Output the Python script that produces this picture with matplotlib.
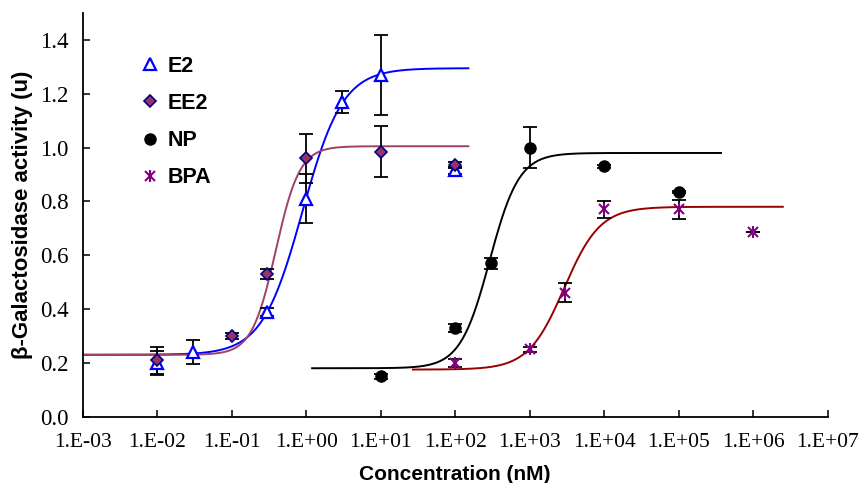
import numpy as np
import matplotlib
matplotlib.use("Agg")
import matplotlib.pyplot as plt
from matplotlib.ticker import FixedLocator, FuncFormatter
from matplotlib.legend_handler import HandlerTuple

# measured points (concentration in nM, mean activity, error)
e2_x = [0.01, 0.03, 0.3, 1, 3, 10, 100]
e2_y = [0.20, 0.24, 0.39, 0.81, 1.17, 1.27, 0.915]
e2_err = [0.045, 0.045, 0.015, 0.09, 0.04, 0.15, 0.012]

ee2_x = [0.01, 0.1, 0.3, 1, 10, 100]
ee2_y = [0.21, 0.30, 0.53, 0.96, 0.985, 0.935]
ee2_err = [0.05, 0.01, 0.02, 0.09, 0.095, 0.01]

np_x = [10, 100, 300, 1000, 1e4, 1e5]
np_y = [0.15, 0.33, 0.57, 1.00, 0.93, 0.835]
np_err = [0.01, 0.015, 0.02, 0.075, 0.005, 0.005]

bpa_x = [100, 1000, 3000, 1e4, 1e5, 1e6]
bpa_y = [0.20, 0.25, 0.46, 0.77, 0.77, 0.685]
bpa_err = [0.015, 0.008, 0.035, 0.03, 0.035, 0.0]

# fitted dose-response curves: bottom, top, EC50 (nM), hill slope, x range
e2_fit = dict(bottom=0.23, top=1.295, ec50=0.89, hill=1.6, lo=1e-3, hi=150)
ee2_fit = dict(bottom=0.23, top=1.005, ec50=0.39, hill=2.7, lo=1e-3, hi=150)
np_fit = dict(bottom=0.18, top=0.98, ec50=290, hill=2.2, lo=1.2, hi=3.7e5)
bpa_fit = dict(bottom=0.175, top=0.78, ec50=2900, hill=1.8, lo=27, hi=2.5e6)

x_exponents = list(range(-3, 8))
y_ticks = [0.0, 0.2, 0.4, 0.6, 0.8, 1.0, 1.2, 1.4]


def sigmoid(p):
    x = np.logspace(np.log10(p["lo"]), np.log10(p["hi"]), 300)
    y = p["bottom"] + (p["top"] - p["bottom"]) / (1 + (p["ec50"] / x) ** p["hill"])
    return x, y


fig = plt.figure(figsize=(8.6, 4.83), dpi=100)
ax = fig.add_axes([0.0962, 0.1373, 0.8662, 0.8357])

# curves
for fit, col in [(e2_fit, "#0000FF"), (ee2_fit, "#A0406A"),
                 (np_fit, "#000000"), (bpa_fit, "#990000")]:
    cx, cy = sigmoid(fit)
    ax.plot(cx, cy, color=col, lw=1.4, zorder=2)

ebkw = dict(fmt="none", ecolor="black", elinewidth=1.3, capsize=5, capthick=1.3, zorder=3)
ax.errorbar(e2_x, e2_y, yerr=e2_err, **ebkw)
ax.errorbar(ee2_x, ee2_y, yerr=ee2_err, **ebkw)
ax.errorbar(np_x, np_y, yerr=np_err, **ebkw)
ax.errorbar(bpa_x, bpa_y, yerr=bpa_err, **ebkw)

h_e2, = ax.plot(e2_x, e2_y, ls="none", marker="^", ms=8.5, mfc="white",
                mec="#0000FF", mew=1.6, zorder=4)
h_ee2, = ax.plot(ee2_x, ee2_y, ls="none", marker="D", ms=6.5, mfc="#993366",
                 mec="#000080", mew=1.2, zorder=5)
h_np, = ax.plot(np_x, np_y, ls="none", marker="o", ms=8, mfc="black",
                mec="black", zorder=4)
h_bx, = ax.plot(bpa_x, bpa_y, ls="none", marker="x", ms=7.5, mec="#800080",
                mew=1.5, zorder=4)
h_bv, = ax.plot(bpa_x, bpa_y, ls="none", marker="|", ms=9, mec="#800080",
                mew=1.5, zorder=4)

ax.set_xscale("log")
ax.set_xlim(1e-3, 1e7)
ax.set_ylim(0, 1.5)
ax.xaxis.set_major_locator(FixedLocator([10.0 ** e for e in x_exponents]))
ax.xaxis.set_minor_locator(FixedLocator([]))
ax.xaxis.set_major_formatter(FuncFormatter(
    lambda v, pos: "1.E%+03d" % int(round(np.log10(v)))))
ax.set_yticks(y_ticks)
ax.yaxis.set_major_formatter(FuncFormatter(lambda v, pos: "%.1f" % v))

for s in ["top", "right"]:
    ax.spines[s].set_visible(False)
for s in ["left", "bottom"]:
    ax.spines[s].set_linewidth(1.3)

ax.tick_params(direction="in", length=5, width=1.1)
ax.tick_params(axis="x", pad=12, labelsize=15.5)
ax.tick_params(axis="y", pad=10, labelsize=16.5)
for lab in ax.get_xticklabels() + ax.get_yticklabels():
    lab.set_family("Liberation Serif")

ax.set_xlabel("Concentration (nM)", fontsize=15, fontweight="bold",
              family="Liberation Sans", labelpad=9)
ax.set_ylabel("β-Galactosidase activity (u)", fontsize=16, fontweight="bold",
              family="Liberation Sans", labelpad=5)

ax.legend([h_e2, h_ee2, h_np, (h_bx, h_bv)], ["E2", "EE2", "NP", "BPA"],
          handler_map={tuple: HandlerTuple(ndivide=1)},
          loc="upper left", bbox_to_anchor=(128 / 860, 1 - 45 / 483),
          bbox_transform=fig.transFigure, frameon=False, handlelength=1.0,
          handletextpad=0.35, labelspacing=0.75, borderpad=0,
          prop=dict(family="Liberation Sans", weight="bold", size=15.5))

fig.savefig("out.png", dpi=100)
